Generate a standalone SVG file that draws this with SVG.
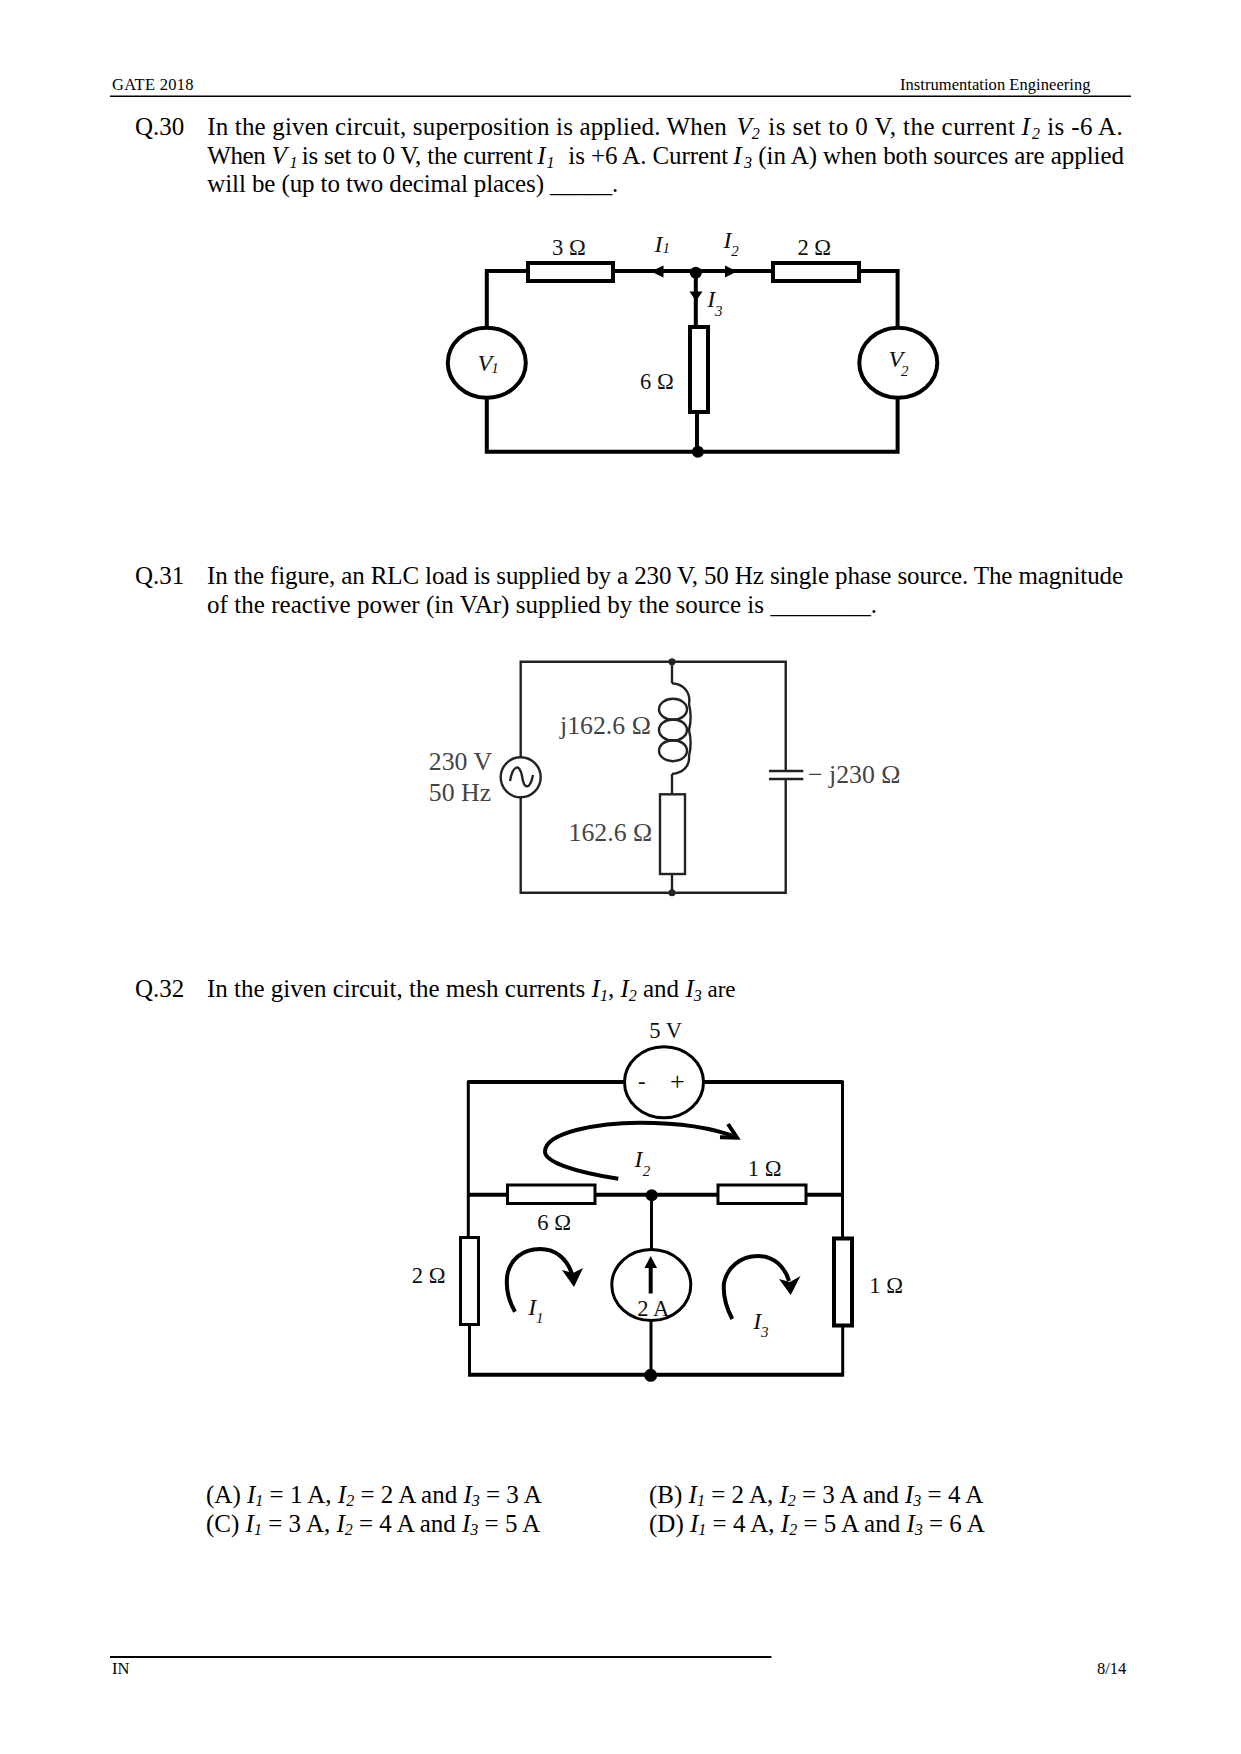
<svg xmlns="http://www.w3.org/2000/svg" width="1241" height="1754" viewBox="0 0 1241 1754">
<style>
text{font-family:"Liberation Serif","Times New Roman",serif;fill:#000;white-space:pre}
.b{font-size:25px}
.h{font-size:16.5px}
.i{font-style:italic}
.s{font-size:16px;font-style:italic}
.l{font-size:22.6px;fill:#111}
.li{font-size:24px;font-style:italic;fill:#111}
.ls{font-size:15px;font-style:italic;fill:#111}
.g{font-size:25.8px;fill:#444}
.w{fill:none;stroke:#000;stroke-width:4;stroke-linejoin:miter}
.w3{fill:none;stroke:#000;stroke-width:3}
.r{fill:#fff;stroke:#000;stroke-width:4}
.r3{fill:#fff;stroke:#000;stroke-width:3}
.f{fill:#000;stroke:none}
.t{fill:none;stroke:#222;stroke-width:2.4}
.tr{fill:#fff;stroke:#222;stroke-width:2.4}
.tf{fill:#222;stroke:none}
.c{fill:none;stroke:#000;stroke-width:4;stroke-linecap:butt}
</style>
<rect width="1241" height="1754" fill="#fff"/>

<g id="page-header">
<text class="h" x="112" y="89.5" textLength="81.5">GATE 2018</text>
<text class="h" x="900" y="89.5" textLength="190.5">Instrumentation Engineering</text>
<line x1="110" y1="96.3" x2="1131" y2="96.3" stroke="#000" stroke-width="1.6"/>
</g>

<g id="q30-text">
<text class="b" x="135" y="135">Q.30</text>
<text class="b" x="207.3" y="135" textLength="519.4">In the given circuit, superposition is applied. When</text>
<text class="b i" x="736.5" y="135">V</text><text class="s" x="751.7" y="138.5">2</text>
<text class="b" x="768.3" y="135" textLength="246.7">is set to 0 V, the current</text>
<text class="b i" x="1021.5" y="135">I</text><text class="s" x="1032" y="138.5">2</text>
<text class="b" x="1047.3" y="135" textLength="75.4">is -6 A.</text>
<text class="b" x="207.3" y="164" textLength="58.4">When</text>
<text class="b i" x="271.5" y="164">V</text><text class="s" x="289.5" y="167.5">1</text>
<text class="b" x="301.7" y="164" textLength="231.3">is set to 0 V, the current</text>
<text class="b i" x="537.3" y="164">I</text><text class="s" x="546.5" y="167.5">1</text>
<text class="b" x="568.3" y="164" textLength="160">is +6 A. Current</text>
<text class="b i" x="733.3" y="164">I</text><text class="s" x="744" y="167.5">3</text>
<text class="b" x="758.3" y="164" textLength="365.7">(in A) when both sources are applied</text>
<text class="b" x="207.3" y="192.3" textLength="411">will be (up to two decimal places) _____.</text>
</g>

<g id="q30-circuit">
<g id="q30-connectors">
<path class="w" d="M526.4 271H486.8V326.7M486.8 398.7V451.7H897.6V398.7M897.6 326.7V271H860.4"/>
<path class="w" d="M614.2 271H771.6M695.8 272.7V325.7M697 412.7V451.7"/>
<polygon class="f" points="651,271.5 663.5,265.5 663.5,277.5"/>
<polygon class="f" points="737,271.5 725,265.5 725,277.5"/>
<polygon class="f" points="696,301 689.5,291.5 702.5,291.5"/>
</g>
<g id="q30-r3"><rect class="r" x="528" y="263" width="85" height="18"/><text class="l" x="552" y="255">3 Ω</text></g>
<g id="q30-r2"><rect class="r" x="773" y="263" width="86" height="18"/><text class="l" x="797.4" y="255">2 Ω</text></g>
<g id="q30-r6"><rect class="r" x="690" y="327" width="18" height="85"/><text class="l" x="640" y="389.3">6 Ω</text></g>
<g id="q30-v1"><ellipse class="r" cx="486.8" cy="362.7" rx="39" ry="35"/><text class="li" x="477.5" y="371">V</text><text class="ls" x="491.3" y="373">1</text></g>
<g id="q30-v2"><ellipse class="r" cx="898.3" cy="362.7" rx="39" ry="35"/><text class="li" x="888.5" y="367.3">V</text><text class="ls" x="901" y="376">2</text></g>
<g id="q30-j1"><circle class="f" cx="695.8" cy="272.7" r="6"/></g>
<g id="q30-j2"><circle class="f" cx="697.9" cy="451.7" r="6"/></g>
<g id="q30-labels">
<text class="li" x="654.5" y="251.5">I</text><text class="ls" x="662.4" y="252.7">1</text>
<text class="li" x="723.4" y="247.7">I</text><text class="ls" x="731.3" y="256">2</text>
<text class="li" x="707.2" y="307.3">I</text><text class="ls" x="715.1" y="316">3</text>
</g>
</g>

<g id="q31-text">
<text class="b" x="135" y="584.3">Q.31</text>
<text class="b" x="207" y="584.3" textLength="916">In the figure, an RLC load is supplied by a 230 V, 50 Hz single phase source. The magnitude</text>
<text class="b" x="207" y="613.3" textLength="670">of the reactive power (in VAr) supplied by the source is ________.</text>
</g>

<g id="q31-circuit">
<g id="q31-connectors">
<path class="t" d="M520.7 757.3V661.7H785.7V771M785.7 779V892.7H520.7V797.3"/>
<path class="t" d="M672 661.7V683.3M672 774V794.3M672 874V892.7"/>
</g>
<g id="q31-source"><circle class="t" cx="520.7" cy="777.3" r="20"/><path class="t" d="M510 781C513 764 520 764 522 776C524 790 530 790 533 775"/><text class="g" x="428.8" y="770">230 V</text><text class="g" x="428.8" y="801">50 Hz</text></g>
<g id="q31-coil">
<ellipse class="t" cx="673" cy="709.3" rx="14" ry="10.5"/>
<ellipse class="t" cx="673" cy="730" rx="14" ry="10.5"/>
<ellipse class="t" cx="673" cy="750.7" rx="14" ry="10.5"/>
<path class="t" d="M672 683.3C684 684 691 693 689 704C691 712 691 722 689 730C691 738 691 748 689 756C690 766 683 773 672 774"/>
<text class="g" x="560" y="734">j162.6 Ω</text></g>
<g id="q31-res"><rect class="tr" x="660" y="794.3" width="25" height="79.7"/><text class="g" x="568.5" y="840.7">162.6 Ω</text></g>
<g id="q31-cap"><line class="t" x1="769" y1="771" x2="803.3" y2="771"/><line class="t" x1="769" y1="779" x2="803.3" y2="779"/><text class="g" x="808" y="783.3">− j230 Ω</text></g>
<circle class="tf" cx="672" cy="661.7" r="3.5"/>
<circle class="tf" cx="672" cy="892.7" r="3.5"/>
</g>

<g id="q32-text">
<text class="b" x="135" y="997.3">Q.32</text>
<text class="b" x="207" y="997.3">In the given circuit, the mesh currents <tspan class="i">I</tspan><tspan class="s" dy="3.5">1</tspan><tspan dy="-3.5">, </tspan><tspan class="i">I</tspan><tspan class="s" dy="3.5">2</tspan><tspan dy="-3.5"> and </tspan><tspan class="i">I</tspan><tspan class="s" dy="3.5">3</tspan><tspan dy="-3.5" font-size="23"> are</tspan></text>
</g>

<g id="q32-circuit">
<g id="q32-connectors">
<path class="w" d="M468 1082H624M704 1082H842.5"/>
<path class="w3" d="M468.3 1080.5V1237M842.5 1080.5V1238"/>
<path class="w" d="M468 1194.7H508M595 1194.7H718M806 1194.7H842.5"/>
<path class="w3" d="M651.5 1195V1249M651 1321V1375M469.5 1324V1374.7M842.7 1326V1376"/>
<path class="w" d="M468 1374.7H844"/>
</g>
<g id="q32-v"><ellipse class="w3" cx="664" cy="1082.3" rx="39.5" ry="35.5" fill="#fff"/><text class="l" x="649.3" y="1038.3">5 V</text><text class="l" x="638" y="1089">-</text><text x="670" y="1089.5" font-size="26">+</text></g>
<g id="q32-r6"><rect class="r3" x="507.5" y="1185" width="87.5" height="18.5"/><text class="l" x="537.3" y="1230">6 Ω</text></g>
<g id="q32-r1a"><rect class="r3" x="718" y="1185" width="88" height="18.5"/><text class="l" x="747.7" y="1176">1 Ω</text></g>
<g id="q32-r2"><rect class="r3" x="460.5" y="1237.5" width="18" height="87"/><text class="l" x="411.7" y="1283.3">2 Ω</text></g>
<g id="q32-r1b"><rect class="r" x="834" y="1238.5" width="18" height="87"/><text class="l" x="869.3" y="1293.3">1 Ω</text></g>
<g id="q32-cs"><ellipse class="w3" cx="651.3" cy="1285" rx="39.5" ry="35.5"/><line class="c" x1="650.7" y1="1293.5" x2="650.7" y2="1266"/><polygon class="f" points="650.7,1256 644.5,1268 657,1268"/><text class="l" x="637.3" y="1315.7">2 A</text></g>
<g id="q32-mesh2"><path class="c" d="M618.3 1178.7C575 1172 545 1162 545 1151.7C545 1132 600 1122.7 640 1122.7C680 1122.7 713 1128 736.7 1137.3"/><polyline class="c" points="728,1124 737,1137.7 720,1137.3"/><text class="li" x="634.5" y="1167.3">I</text><text class="ls" x="642.7" y="1175.7">2</text></g>
<g id="q32-mesh1"><path class="c" d="M515 1311.7C507 1298 506 1285 507.3 1275C510 1260 522 1249 540 1249C556 1249 567 1259 572 1274"/><polygon class="f" points="574,1287 562,1270 573,1273 583,1268"/><text class="li" x="528.3" y="1315">I</text><text class="ls" x="536" y="1323.3">1</text></g>
<g id="q32-mesh3"><path class="c" d="M732.3 1319C725 1305 723 1293 724 1283C727 1268 740 1256 758 1256C774 1256 785 1267 789 1281"/><polygon class="f" points="790.7,1295 779,1279 790,1282 800.5,1276"/><text class="li" x="753.3" y="1329.3">I</text><text class="ls" x="761" y="1336.7">3</text></g>
<circle class="f" cx="651.7" cy="1195.3" r="6"/>
<circle class="f" cx="650.7" cy="1375.3" r="6.5"/>
</g>

<g id="options">
<text class="b" x="206" y="1502.5">(A) <tspan class="i">I</tspan><tspan class="s" dy="3.5">1</tspan><tspan dy="-3.5"> = 1 A, </tspan><tspan class="i">I</tspan><tspan class="s" dy="3.5">2</tspan><tspan dy="-3.5"> = 2 A and </tspan><tspan class="i">I</tspan><tspan class="s" dy="3.5">3</tspan><tspan dy="-3.5"> = 3 A</tspan></text>
<text class="b" x="649" y="1502.5">(B) <tspan class="i">I</tspan><tspan class="s" dy="3.5">1</tspan><tspan dy="-3.5"> = 2 A, </tspan><tspan class="i">I</tspan><tspan class="s" dy="3.5">2</tspan><tspan dy="-3.5"> = 3 A and </tspan><tspan class="i">I</tspan><tspan class="s" dy="3.5">3</tspan><tspan dy="-3.5"> = 4 A</tspan></text>
<text class="b" x="206" y="1531.5">(C) <tspan class="i">I</tspan><tspan class="s" dy="3.5">1</tspan><tspan dy="-3.5"> = 3 A, </tspan><tspan class="i">I</tspan><tspan class="s" dy="3.5">2</tspan><tspan dy="-3.5"> = 4 A and </tspan><tspan class="i">I</tspan><tspan class="s" dy="3.5">3</tspan><tspan dy="-3.5"> = 5 A</tspan></text>
<text class="b" x="649" y="1531.5">(D) <tspan class="i">I</tspan><tspan class="s" dy="3.5">1</tspan><tspan dy="-3.5"> = 4 A, </tspan><tspan class="i">I</tspan><tspan class="s" dy="3.5">2</tspan><tspan dy="-3.5"> = 5 A and </tspan><tspan class="i">I</tspan><tspan class="s" dy="3.5">3</tspan><tspan dy="-3.5"> = 6 A</tspan></text>
</g>

<g id="page-footer">
<line x1="110" y1="1657" x2="771.4" y2="1657" stroke="#000" stroke-width="2"/>
<text class="h" x="112" y="1674">IN</text>
<text class="h" x="1097" y="1674">8/14</text>
</g>
</svg>
